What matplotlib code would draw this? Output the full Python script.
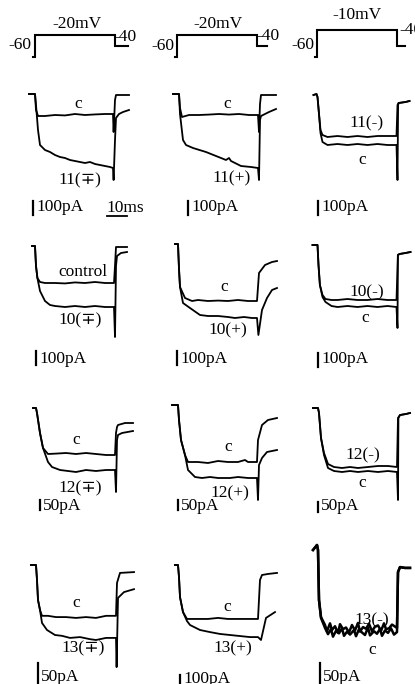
import matplotlib
matplotlib.use("Agg")
import matplotlib.pyplot as plt

plt.rcParams['font.family'] = ['Liberation Serif', 'DejaVu Serif']

W, H = 415, 684     # figure size in pixels
PX_MS = 2.0         # pixels per ms on every panel
PX_MV = 0.55        # pixels per mV on the protocol drawings

# ---- voltage protocols (ms, mV), one per column ----
prot_t = [-1, 0, 0, 40, 40]
prot_hold = -60
prot_levels = [-20, -20, -10]
prot_tail = -40
prot_end = [46.5, 45, 44]
prot_titles = ['-20mV', '-20mV', '-10mV']

# ---- current traces (ms, pA); "c" = control, "d" = drug ----
# row 1 : 11
a1_t_c = [-3, 0, 0.5, 1.5, 5, 10, 15, 20, 25, 30, 35, 39, 39.3, 40, 40.5, 47]
a1_i_c = [0, 0, -112, -154, -154, -147, -150, -140, -147, -143, -140, -140, -266, -42, -7, -7]
a1_t_d = [-3, 0, 0.5, 1.5, 2.5, 5, 7.5, 10, 12.5, 15, 17.5, 20, 22.5, 25, 27.5, 30, 32.5, 35, 37.5, 39, 39.3, 40, 40.5, 42, 44, 47]
a1_i_d = [0, 0, -77, -252, -357, -392, -406, -427, -441, -448, -462, -469, -476, -483, -476, -490, -497, -504, -511, -518, -602, -322, -168, -140, -126, -112]

a2_t_c = [-3, 0, 0.5, 1.5, 5, 10, 15, 20, 25, 30, 35, 39.5, 40, 40.5, 41, 48.5]
a2_i_c = [0, 0, -98, -161, -147, -147, -144, -140, -144, -140, -147, -147, -266, -70, -7, -7]
a2_t_d = [-3, 0, 0.5, 2, 3.5, 7, 13.5, 18.5, 23.5, 25, 26, 27, 31, 36, 39.5, 40, 40.5, 41, 45, 48.5]
a2_i_d = [0, 0, -140, -322, -357, -378, -406, -434, -462, -448, -469, -476, -504, -511, -518, -602, -182, -154, -126, -105]

a3_t_c = [-2, -0.5, 0, 0.8, 1.5, 2.5, 5, 10, 15, 20, 25, 30, 35, 39.5, 40, 40.3, 40.6, 44, 46]
a3_i_c = [0, 7, -14, -140, -266, -329, -350, -343, -350, -343, -350, -343, -350, -350, -595, -70, -56, -49, -42]
a3_t_d = [-2, -0.5, 0, 0.8, 1.5, 2.5, 5, 10, 15, 20, 25, 30, 35, 39.5, 40, 40.5, 44, 46]
a3_i_d = [0, 7, -14, -140, -245, -280, -294, -287, -294, -287, -294, -287, -287, -287, -70, -56, -49, -42]

# row 2 : 10
b1_t_c = [-1.5, 0, 0.5, 1.2, 2.5, 5, 10, 15, 20, 25, 30, 35, 39.5, 40, 40.5, 46]
b1_i_c = [0, 0, -140, -224, -252, -259, -259, -262, -255, -259, -252, -259, -259, -140, -7, -7]
b1_t_d = [-1.5, 0, 0.5, 1.2, 2.5, 5, 7.5, 10, 15, 20, 25, 30, 35, 39.5, 40, 40.5, 41, 43, 46]
b1_i_d = [0, 0, -140, -224, -315, -385, -413, -420, -427, -420, -427, -420, -427, -427, -637, -140, -70, -49, -42]

b2_t_c = [-1.5, 0, 0.5, 1, 3.5, 7, 10, 15, 20, 25, 30, 35, 39.5, 40.5, 43.5, 47, 49.5]
b2_i_c = [0, 0, -175, -301, -378, -399, -392, -399, -396, -399, -392, -399, -399, -203, -147, -126, -119]
b2_t_d = [-1.5, 0, 0.5, 1, 2.5, 6, 11, 15, 20, 25, 28.5, 33, 37, 39.5, 40.2, 42, 44.5, 47, 49.5]
b2_i_d = [0, 0, -175, -301, -413, -448, -497, -504, -504, -511, -518, -511, -518, -518, -637, -462, -378, -322, -308]

b3_t_c = [-2.5, 0, 0.5, 1.2, 2.5, 4, 7, 10, 15, 20, 25, 30, 35, 39.5, 40, 40.2, 41, 44, 46.5]
b3_i_c = [0, 0, -140, -280, -364, -399, -427, -434, -427, -434, -427, -434, -427, -434, -581, -70, -63, -56, -49]
b3_t_d = [-2.5, 0, 0.5, 1.2, 2.5, 4, 7, 10, 15, 20, 25, 30, 35, 39.5, 40.2, 41, 44, 46.5]
b3_i_d = [0, 0, -140, -280, -350, -378, -385, -385, -378, -385, -385, -378, -385, -385, -70, -63, -56, -49]

# row 3 : 12
c1_t_c = [-1.5, 0, 0.5, 2, 3.5, 6, 10, 15, 20, 25, 30, 35, 39.5, 40, 40.5, 41, 44.5, 48.5]
c1_i_c = [0, 0, -25, -125, -200, -230, -228, -225, -230, -225, -230, -235, -235, -125, -95, -85, -75, -75]
c1_t_d = [-1.5, 0, 0.5, 2, 3.5, 6, 8, 12, 16, 20, 25, 30, 35, 39.5, 40, 40.5, 41, 43, 48.5]
c1_i_d = [0, 0, -25, -125, -200, -270, -295, -310, -315, -320, -310, -315, -310, -310, -420, -160, -135, -125, -115]

c2_t_c = [-3, 0, 0.5, 1.5, 3.5, 5, 10, 15, 20, 25, 30, 33.5, 35, 39.5, 40, 42, 45, 49.5]
c2_i_c = [0, 0, -75, -175, -250, -285, -285, -290, -280, -285, -285, -275, -285, -285, -175, -100, -75, -65]
c2_t_d = [-3, 0, 0.5, 1.5, 3.5, 5, 8.5, 12, 16, 20, 26, 30, 35, 39.5, 40, 40.5, 42, 44.5, 49.5]
c2_i_d = [0, 0, -75, -175, -250, -325, -360, -365, -360, -365, -365, -360, -365, -365, -475, -300, -265, -235, -225]

c3_t_c = [-2.5, 0, 0.5, 1.5, 3, 5, 8, 12, 16, 20, 25, 30, 35, 39.5, 40, 40.2, 41, 44, 46]
c3_i_c = [0, 0, -25, -150, -235, -300, -315, -320, -315, -320, -315, -320, -315, -320, -460, -50, -35, -30, -25]
c3_t_d = [-2.5, 0, 0.5, 1.5, 3, 5, 8, 12, 16, 20, 25, 30, 35, 39.5, 40, 41, 44, 46]
c3_i_d = [0, 0, -25, -150, -225, -280, -295, -300, -295, -300, -295, -290, -290, -295, -50, -35, -30, -25]

# row 4 : 13
d1_t_c = [-2.5, 0, 0.5, 1, 2, 3, 6, 10, 15, 20, 25, 30, 35, 40, 40.5, 42, 49]
d1_i_c = [0, 0, -36, -84, -108, -122, -122, -125, -125, -127, -125, -127, -122, -122, -43, -19, -17]
d1_t_d = [-2.5, 0, 0.5, 1, 2, 3, 5.5, 9.5, 13, 17, 22, 27, 30, 35, 40, 40.3, 41, 44, 49]
d1_i_d = [0, 0, -36, -84, -108, -139, -156, -168, -170, -175, -173, -178, -180, -175, -175, -245, -79, -65, -58]

d2_t_c = [-1.5, 0, 0.5, 1, 2.5, 4.5, 10, 15, 20, 25, 30, 35, 40, 41, 42, 45, 49.5]
d2_i_c = [0, 0, -58, -154, -226, -259, -259, -259, -254, -259, -259, -259, -259, -72, -48, -43, -38]
d2_t_d = [-1.5, 0, 0.5, 1, 2.5, 4.5, 6, 11, 16, 21, 26, 31, 36, 40, 41.5, 44, 48.5]
d2_i_d = [0, 0, -58, -154, -226, -269, -288, -312, -322, -331, -336, -341, -346, -346, -360, -254, -226]

d3_t_c = [-2.5, -0.5, 0, 0.5, 1.5, 3.5, 5, 6.5, 7.5, 9, 10.5, 12, 13, 14.5, 16, 18, 19, 20.5, 22, 23.5, 25, 26, 28, 29.5, 31, 32, 33.5, 35, 36.5, 38, 39.5, 40, 41, 43.5, 46]
d3_i_c = [0, 12, 0, -120, -163, -187, -202, -190, -208, -194, -200, -188, -206, -196, -203, -192, -207, -190, -198, -204, -186, -205, -195, -201, -189, -206, -193, -199, -188, -203, -197, -53, -41, -43, -43]
d3_t_d = [-2.5, -0.5, 0, 0.5, 1.5, 3.5, 4.5, 6, 7, 8.5, 10, 11, 12.5, 14, 15.5, 17, 18.5, 20, 21, 22.5, 24, 25.5, 27, 28.5, 30, 31.5, 33, 34, 35.5, 37, 39.5, 40, 41, 43.5, 46]
d3_i_d = [0, 12, 0, -120, -161, -180, -195, -176, -192, -183, -199, -178, -190, -186, -198, -180, -193, -175, -196, -185, -189, -177, -195, -184, -181, -194, -176, -190, -188, -179, -187, -53, -41, -43, -43]

traces = [
    [(a1_t_c, a1_i_c), (a1_t_d, a1_i_d)], [(a2_t_c, a2_i_c), (a2_t_d, a2_i_d)], [(a3_t_c, a3_i_c), (a3_t_d, a3_i_d)],
    [(b1_t_c, b1_i_c), (b1_t_d, b1_i_d)], [(b2_t_c, b2_i_c), (b2_t_d, b2_i_d)], [(b3_t_c, b3_i_c), (b3_t_d, b3_i_d)],
    [(c1_t_c, c1_i_c), (c1_t_d, c1_i_d)], [(c2_t_c, c2_i_c), (c2_t_d, c2_i_d)], [(c3_t_c, c3_i_c), (c3_t_d, c3_i_d)],
    [(d1_t_c, d1_i_c), (d1_t_d, d1_i_d)], [(d2_t_c, d2_i_c), (d2_t_d, d2_i_d)], [(d3_t_c, d3_i_c), (d3_t_d, d3_i_d)],
]
ctrl_labels = ['c', 'c', 'c', 'control', 'c', 'c', 'c', 'c', 'c', 'c', 'c', 'c']
drug_labels = ['11(∓)', '11(+)', '11(-)', '10(∓)', '10(+)', '10(-)',
               '12(∓)', '12(+)', '12(-)', '13(∓)', '13(+)', '13(-)']
bar_pa = [100, 100, 100, 100, 100, 100, 50, 50, 50, 50, 100, 50]

# ---- layout (pixels) ----
col_left = [0, 140, 278]
row_top = [70, 230, 390, 532]
row_h = [160, 160, 142, 152]
x0s = [35, 179, 317.5, 35, 178, 317.5, 36, 178, 318, 36, 178, 318]
bases = [94, 94, 95, 246, 244, 245, 408, 405, 408, 565, 565, 550]
pa_per_px = [7, 7, 7, 7, 7, 7, 5, 5, 5, 2.4, 4.8, 2.4]
trace_lw = [1.3] * 11 + [1.8]
ctrl_xy = [(78, 104), (227, 104), (362, 160), (83, 272), (224, 287), (365, 318),
           (76, 440), (228, 447), (362, 483), (76, 603), (227, 607), (372, 650)]
drug_xy = [(80, 180), (232, 178), (367, 123), (80, 320), (228, 330), (367, 292),
           (80, 488), (230, 493), (363, 455), (83, 648), (233, 648), (372, 620)]
bar_xy = [(33, 201), (188, 201), (318, 201), (36, 351), (177, 351), (318, 353),
          (40, 500), (178, 500), (318, 502), (38, 663), (180, 675), (320, 663)]
bar_text_y = [207, 207, 207, 359, 359, 359, 506, 506, 506, 677, 679, 677]

fig = plt.figure(figsize=(W / 100, H / 100), dpi=100)
FS = 12.5


def add_panel(left, top, w, h, x0, base, k, zero=0.0):
    ax = fig.add_axes([left / W, 1 - (top + h) / H, w / W, h / H])
    ax.set_xlim((left - x0) / PX_MS, (left + w - x0) / PX_MS)
    ax.set_ylim(zero - (top + h - base) * k, zero + (base - top) * k)
    ax.axis('off')
    return ax


def px_text(x, y, s, **kw):
    fig.text(x / W, 1 - y / H, s, fontsize=FS, ha='center', va='center', **kw)


# voltage protocols
prot_x0 = [35, 177, 317]
for j in range(3):
    ax = add_panel(col_left[j], 0, 137, 70, prot_x0[j], 57, 1 / PX_MV, zero=prot_hold)
    v = prot_levels[j]
    ax.plot(prot_t + [prot_end[j]], [prot_hold, prot_hold, v, v, prot_tail, prot_tail],
            color='black', lw=1.5, solid_joinstyle='miter', clip_on=False)
px_text(20, 45, '-60')
px_text(77, 24, prot_titles[0])
px_text(125, 37, '-40')
px_text(163, 46, '-60')
px_text(218, 24, prot_titles[1])
px_text(268, 36, '-40')
px_text(303, 45, '-60')
px_text(357, 15, prot_titles[2])
fig.text(399 / W, 1 - 30 / H, '-40', fontsize=FS, ha='left', va='center')

# current panels
for n in range(12):
    r, j = divmod(n, 3)
    ax = add_panel(col_left[j], row_top[r], 137, row_h[r], x0s[n], bases[n], pa_per_px[n])
    for t, i in traces[n]:
        ax.plot(t, i, color='black', lw=trace_lw[n], clip_on=False)
    # vertical current scale bar
    bx, by = bar_xy[n]
    tb = (bx - x0s[n]) / PX_MS
    ib = -(by - bases[n]) * pa_per_px[n]
    ax.plot([tb, tb], [ib, ib - bar_pa[n]], color='black', lw=1.6, clip_on=False)
    fig.text((bx + 3) / W, 1 - bar_text_y[n] / H, '%dpA' % bar_pa[n],
             fontsize=FS, ha='left', va='center')
    px_text(*ctrl_xy[n], ctrl_labels[n])
    px_text(*drug_xy[n], drug_labels[n])
    if n == 0:
        # 10 ms time scale bar
        ts = (107 - x0s[0]) / PX_MS
        iy = -(216 - bases[0]) * pa_per_px[0]
        ax.plot([ts, ts + 10], [iy, iy], color='black', lw=1.3, clip_on=False)
        fig.text(106 / W, 1 - 208 / H, '10ms', fontsize=FS, ha='left', va='center')

fig.savefig('out.png', dpi=100)
